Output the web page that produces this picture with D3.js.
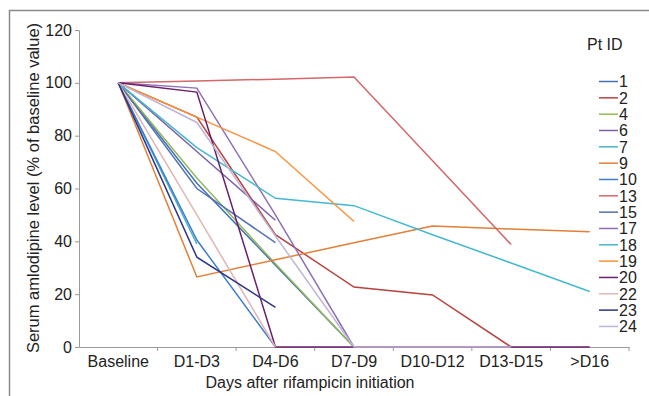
<!DOCTYPE html>
<html><head><meta charset="utf-8">
<script src="https://cdn.jsdelivr.net/npm/d3@7"></script>
<style>body{margin:0;background:#fff}svg{display:block;font-family:"Liberation Sans",Arial,sans-serif}</style>
</head><body>
<svg id="c" width="649" height="396"></svg>
<script>
const categories = ["Baseline","D1-D3","D4-D6","D7-D9","D10-D12","D13-D15",">D16"];
const yTicks = [0,20,40,60,80,100,120];
const patients = ["1","2","4","6","7","9","10","13","15","17","18","19","20","22","23","24"];
const colors = ["#3E73B8","#B8433F","#96B85A","#7B62A4","#4BB2CC","#E27F38","#3D7ECB","#D4676A","#5470B4","#8E70B8","#45B8CF","#F9923C","#6A1E6C","#E2B4B4","#2D3585","#BFB4D6"];
const s1  = [100, 62, 31, 0, null, null, null];
const s2  = [100, 87, 42.5, 22.7, 19.7, 0, null];
const s4  = [100, 64, 31.5, 0, null, null, null];
const s6  = [100, 74, 48, null, null, null, null];
const s7  = [100, 39, null, null, null, null, null];
const s9  = [100, 26.5, 33, 39.5, 45.8, 44.7, 43.6];
const s10 = [100, 40.5, 0, null, null, null, null];
const s13 = [100, 100.7, 101.4, 102.2, 70.5, 38.8, null];
const s15 = [100, 60, 39.5, null, null, null, null];
const s17 = [100, 98, 50, 0, null, null, null];
const s18 = [100, 75.5, 56.3, 53.5, 42.5, 31.8, 21];
const s19 = [100, 87, 74, 47.5, null, null, null];
const s20 = [100, 96.5, 0, 0, 0, 0, 0];
const s22 = [100, 50, 0, null, null, null, null];
const s23 = [100, 34, 15, null, null, null, null];
const s24 = [100, 85, 42, 0, 0, 0, null];
const seriesValues = [s1,s2,s4,s6,s7,s9,s10,s13,s15,s17,s18,s19,s20,s22,s23,s24];

const svg = d3.select("#c");
const axisCol = "#9a9a9a", textCol = "#222";
// frame
svg.append("path").attr("d","M9.5,396V10.5H649").attr("fill","none").attr("stroke","#8a8a8a").attr("stroke-width",1.5);

const x = d3.scaleBand().domain(categories).range([79,629]).padding(0);
const y = d3.scaleLinear().domain([0,120]).range([347,30]);

const ya = svg.append("g").attr("transform","translate(79,0)")
  .call(d3.axisLeft(y).tickValues(yTicks).tickSize(4).tickSizeOuter(0).tickPadding(3));
ya.select(".domain").attr("stroke",axisCol);
ya.selectAll(".tick line").attr("stroke",axisCol);
ya.selectAll("text").attr("font-size",16).attr("fill",textCol).attr("font-family","Liberation Sans, Arial, sans-serif");

const xa = svg.append("g").attr("transform","translate(0,347)")
  .call(d3.axisBottom(x).tickSize(0).tickPadding(8));
xa.select(".domain").attr("stroke",axisCol);
xa.selectAll("text").attr("font-size",16).attr("fill",textCol).attr("font-family","Liberation Sans, Arial, sans-serif").attr("dy","0.75em");
// band boundary ticks
xa.selectAll(".bt").data(categories.slice(1).concat(["end"])).enter().append("line")
  .attr("x1",(d,i)=>x.range()[0]+x.bandwidth()*(i+1)).attr("x2",(d,i)=>x.range()[0]+x.bandwidth()*(i+1))
  .attr("y1",0).attr("y2",4).attr("stroke",axisCol);

const line = d3.line().x(d=>x(d[0])+x.bandwidth()/2).y(d=>y(d[1]));
seriesValues.forEach((vals,i)=>{
  const pts = vals.map((v,j)=>[categories[j],v]).filter(p=>p[1]!=null);
  svg.append("path").attr("d",line(pts)).attr("fill","none").attr("stroke",colors[i]).attr("stroke-width",1.5);
});

// axis titles
svg.append("text").attr("transform","translate(39,188) rotate(-90)").attr("text-anchor","middle")
  .attr("font-size",16.5).attr("fill",textCol).text("Serum amlodipine level (% of baseline value)");
svg.append("text").attr("x",310).attr("y",388).attr("text-anchor","middle")
  .attr("font-size",16).attr("fill",textCol).text("Days after rifampicin initiation");

// legend
const lg = svg.append("g");
lg.append("text").attr("x",587).attr("y",50).attr("font-size",16).attr("fill",textCol).text("Pt ID");
patients.forEach((p,i)=>{
  const cy = 81.5 + i*16.33;
  lg.append("line").attr("x1",599).attr("x2",618).attr("y1",cy).attr("y2",cy).attr("stroke",colors[i]).attr("stroke-width",1.5);
  lg.append("text").attr("x",619).attr("y",cy).attr("dy","0.36em").attr("font-size",16).attr("fill",textCol).text(p);
});
</script>
</body></html>
